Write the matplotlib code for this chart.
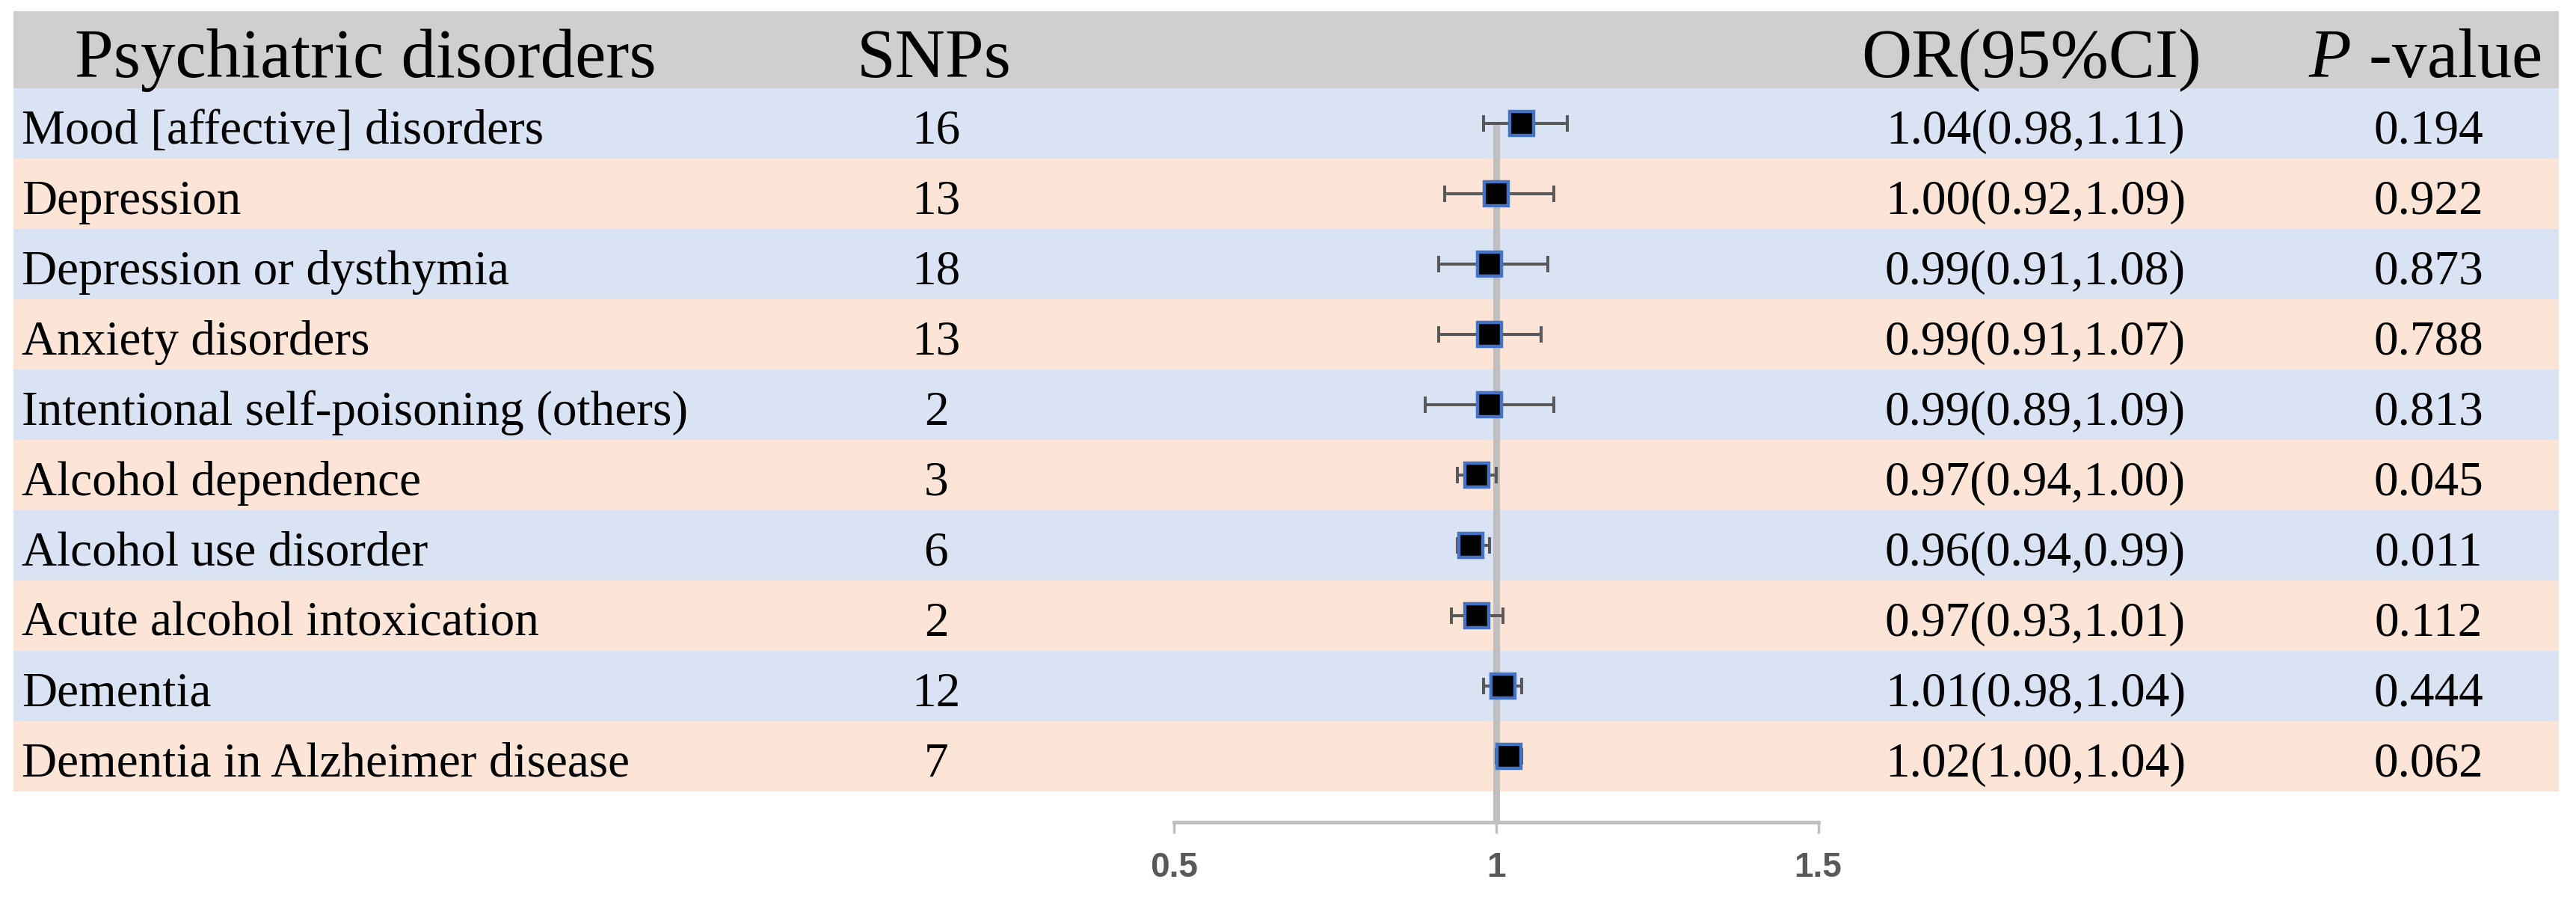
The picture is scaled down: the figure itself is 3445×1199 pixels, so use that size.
import matplotlib
matplotlib.use("Agg")
import matplotlib.pyplot as plt
import matplotlib.transforms as mtransforms

# ---------------- data ----------------
disorders = [
    "Mood [affective] disorders",
    "Depression",
    "Depression or dysthymia",
    "Anxiety disorders",
    "Intentional self-poisoning (others)",
    "Alcohol dependence",
    "Alcohol use disorder",
    "Acute alcohol intoxication",
    "Dementia",
    "Dementia in Alzheimer disease",
]
snps = [16, 13, 18, 13, 2, 3, 6, 2, 12, 7]
or_vals = [1.04, 1.00, 0.99, 0.99, 0.99, 0.97, 0.96, 0.97, 1.01, 1.02]
ci_low = [0.98, 0.92, 0.91, 0.91, 0.89, 0.94, 0.94, 0.93, 0.98, 1.00]
ci_high = [1.11, 1.09, 1.08, 1.07, 1.09, 1.00, 0.99, 1.01, 1.04, 1.04]
p_values = ["0.194", "0.922", "0.873", "0.788", "0.813", "0.045", "0.011", "0.112", "0.444", "0.062"]
headers = ["Psychiatric disorders", "SNPs", "OR(95%CI)", r"$\it{P}$ -value"]
xticks = [0.5, 1, 1.5]
xtick_labels = ["0.5", "1", "1.5"]

# ---------------- style ----------------
plt.rcParams["font.family"] = ["Liberation Serif", "DejaVu Serif"]
plt.rcParams["mathtext.fontset"] = "custom"
plt.rcParams["mathtext.rm"] = "Liberation Serif"
plt.rcParams["mathtext.it"] = "Liberation Serif:italic"

W, H, DPI = 3445, 1199, 100
fig = plt.figure(figsize=(W / DPI, H / DPI), dpi=DPI)
ax = fig.add_axes([0, 0, 1, 1])

# layout (pixel-based)
px_per_unit = 861.0
x_one_px = 2001.0
row_h = 94.0
row0_px = 165.0
ax.set_xlim(1 - x_one_px / px_per_unit, 1 + (W - x_one_px) / px_per_unit)
ax.set_ylim((H - row0_px) / row_h, -row0_px / row_h)

def ypx(p):
    return (p - row0_px) / row_h

trans = mtransforms.blended_transform_factory(ax.transAxes, ax.transData)
xl, xr = 18 / W, 3422 / W

header_col = "#d0cece"
band_cols = ["#dae3f3", "#fce4d6"]

# header band
ax.axhspan(ypx(15), ypx(118), xmin=xl, xmax=xr, color=header_col, lw=0, zorder=0)
n = len(disorders)
for i in range(n):
    ax.axhspan(i - 0.5, i + 0.5, xmin=xl, xmax=xr, color=band_cols[i % 2], lw=0, zorder=0)

# header text
hy = ypx(103)
hfs = 67
ax.text(100 / W, hy, headers[0], transform=trans, ha="left", va="baseline", fontsize=hfs)
ax.text(1249 / W, hy, headers[1], transform=trans, ha="center", va="baseline", fontsize=hfs)
ax.text(2717 / W, hy, headers[2], transform=trans, ha="center", va="baseline", fontsize=hfs)
ax.text(3243 / W, hy, headers[3], transform=trans, ha="center", va="baseline", fontsize=hfs)

# row texts
rfs = 47
for i in range(n):
    by = i + 27 / row_h
    ax.text(29 / W, by, disorders[i], transform=trans, ha="left", va="baseline", fontsize=rfs)
    ax.text(1252 / W, by, str(snps[i]), transform=trans, ha="center", va="baseline", fontsize=rfs)
    ax.text(2722 / W, by, f"{or_vals[i]:.2f}({ci_low[i]:.2f},{ci_high[i]:.2f})",
            transform=trans, ha="center", va="baseline", fontsize=rfs)
    ax.text(3248 / W, by, p_values[i], transform=trans, ha="center", va="baseline", fontsize=rfs)

# axis line position
axis_y = ypx(1099)

# reference line
ax.vlines(1, 0, axis_y, color="#bfbfbf", lw=6.5, zorder=2)

# forest plot
ys = list(range(n))
xerr = [[o - l for o, l in zip(or_vals, ci_low)], [h - o for o, h in zip(or_vals, ci_high)]]
ax.errorbar(or_vals, ys, xerr=xerr, fmt="none", ecolor="#595959", elinewidth=2.9,
            capsize=7.9, capthick=2.9, zorder=3)
ax.plot(or_vals, ys, ls="none", marker="s", markersize=23.4, markerfacecolor="black",
        markeredgecolor="#4472c4", markeredgewidth=3.2, zorder=4)

# x axis
for s in ["top", "left", "right"]:
    ax.spines[s].set_visible(False)
ax.spines["bottom"].set_position(("data", axis_y))
ax.spines["bottom"].set_bounds(xticks[0], xticks[-1])
ax.spines["bottom"].set_color("#bfbfbf")
ax.spines["bottom"].set_linewidth(3.5)
ax.spines["bottom"].set_zorder(2)
ax.set_xticks(xticks)
ax.set_xticklabels(xtick_labels, fontfamily="Liberation Sans", fontweight="bold",
                   fontsize=33, color="#595959")
ax.tick_params(axis="x", direction="out", length=11, width=2.5, color="#bfbfbf", pad=17)
ax.set_yticks([])
ax.patch.set_visible(False)

fig.savefig("out.png", dpi=DPI)
